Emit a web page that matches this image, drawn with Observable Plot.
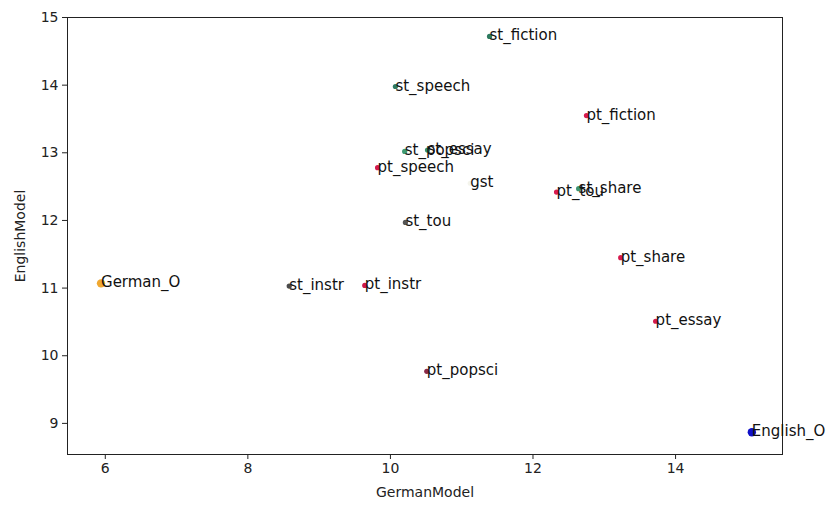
<!DOCTYPE html>
<html>
<head>
<meta charset="utf-8">
<script src="https://cdn.jsdelivr.net/npm/d3@7"></script>
<script src="https://cdn.jsdelivr.net/npm/@observablehq/plot@0.6"></script>
<style>
  html, body { margin: 0; padding: 0; background: #fff; }
  #chart svg { display: block; }
</style>
</head>
<body>
<div id="chart"></div>
<script>
// Perplexity of each text set under the German and English models
const labels = ["st_fiction", "st_speech", "pt_fiction", "st_essay", "st_popsci", "pt_speech", "gst",
  "pt_tou", "st_share", "st_tou", "pt_share", "German_O", "st_instr", "pt_instr",
  "pt_essay", "pt_popsci", "English_O"];
const germanModel = [11.39, 10.07, 12.75, 10.52, 10.20, 9.82, 11.12,
  12.33, 12.64, 10.21, 13.23, 5.94, 8.58, 9.64,
  13.72, 10.51, 15.07];
const englishModel = [14.72, 13.98, 13.55, 13.04, 13.02, 12.78, 12.55,
  12.42, 12.47, 11.97, 11.45, 11.07, 11.03, 11.04,
  10.51, 9.77, 8.87];
const pointColors = ["#2e7a60", "#2f7a62", "#d61a4e", "#3a8f6c", "#3f9a72", "#d3194c", "#f4f4ec",
  "#d81b50", "#3c9470", "#555555", "#d61a4e", "#f0a830", "#4a4a4a", "#cc1848",
  "#d21a4c", "#8a2a48", "#1010c8"];
const pointSizes = [2.6, 2.6, 2.6, 2.6, 2.6, 2.6, 2.6,
  2.6, 2.6, 2.6, 2.6, 4.2, 2.6, 2.6,
  2.6, 2.6, 4.2];
const xTicks = [6, 8, 10, 12, 14];
const yTicks = [9, 10, 11, 12, 13, 14, 15];

const rows = labels.map((name, i) => ({
  name, x: germanModel[i], y: englishModel[i], color: pointColors[i], r: pointSizes[i]
}));

const font = "'DejaVu Sans', sans-serif";

const chart = Plot.plot({
  width: 832,
  height: 507,
  marginLeft: 67,
  marginRight: 50,
  marginTop: 17,
  marginBottom: 53,
  style: { fontFamily: font, fontSize: "14px", color: "#222", background: "#fff" },
  x: { domain: [5.47, 15.5] },
  y: { domain: [8.54, 15.0] },
  r: { type: "identity" },
  color: { type: "identity" },
  marks: [
    Plot.frame({ stroke: "#222", strokeWidth: 1 }),
    Plot.axisX({ ticks: xTicks, tickFormat: "d", tickSize: 5, tickPadding: 4, fontSize: 14,
      label: "GermanModel", labelAnchor: "center", labelArrow: "none", labelOffset: 42 }),
    Plot.axisY({ ticks: yTicks, tickFormat: "d", tickSize: 5, tickPadding: 4, fontSize: 14,
      label: "EnglishModel", labelAnchor: "center", labelArrow: "none", labelOffset: 52 }),
    Plot.dot(rows, { x: "x", y: "y", fill: "color", r: "r", stroke: "none" }),
    Plot.text(rows, { x: "x", y: "y", text: "name", textAnchor: "start", lineAnchor: "bottom",
      dy: 4, fill: "#111", fontSize: 15, fontFamily: font })
  ]
});

document.getElementById("chart").appendChild(chart);
</script>
</body>
</html>
